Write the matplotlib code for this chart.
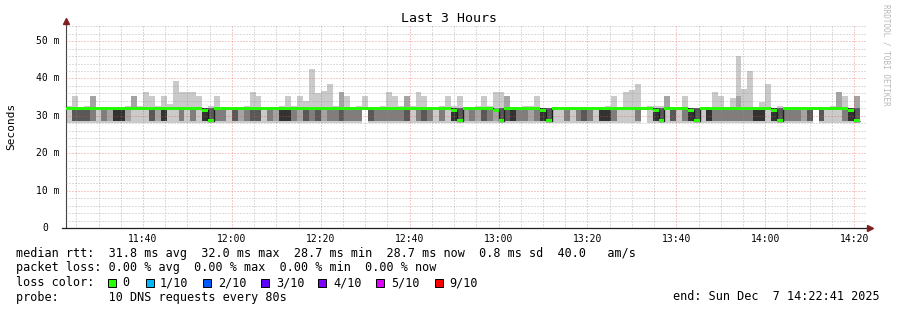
import numpy as np
import matplotlib
matplotlib.use("Agg")
import matplotlib.pyplot as plt
import matplotlib.dates as mdates
from matplotlib.ticker import MultipleLocator
from matplotlib.patches import Rectangle
from datetime import datetime, timedelta

plt.rcParams['font.family'] = ['DejaVu Sans Mono', 'DejaVu Sans']

# ---------------- data (ms), one value per 80 s probe step ----------------
start_time = datetime(2025, 12, 7, 11, 22, 40)
end_time = datetime(2025, 12, 7, 14, 22, 41)
step_seconds = 80

fast_rtt = 28.7   # fast cluster of DNS answers
slow_rtt = 32.0   # slow cluster of DNS answers

rtt_max = [
    32.7, 35.4, 32.2, 32.7, 35.4, 32.2, 32.2, 32.2, 32.2, 32.2,
    32.7, 35.4, 32.7, 36.3, 35.4, 32.7, 35.4, 33.2, 39.4, 36.3,
    36.3, 36.3, 35.4, 32.2, 32.7, 35.4, 32.2, 32.2, 32.2, 32.2,
    32.7, 36.3, 35.4, 32.2, 32.2, 32.2, 32.7, 35.4, 32.7, 35.4,
    34.0, 42.6, 36.0, 36.7, 38.5, 32.7, 36.3, 35.4, 32.2, 32.7,
    35.4, 32.2, 32.2, 32.7, 36.3, 35.4, 32.7, 35.4, 32.7, 36.3,
    35.4, 32.2, 32.2, 32.7, 35.4, 32.7, 35.4, 32.2, 32.2, 32.7,
    35.4, 32.7, 36.3, 36.3, 35.4, 32.2, 32.2, 32.7, 32.7, 35.4,
    32.2, 32.2, 32.2, 32.2, 32.2, 32.2, 32.2, 32.2, 32.2, 32.2,
    32.2, 32.7, 35.4, 32.2, 36.3, 36.8, 38.6, 32.2, 32.7, 32.7,
    32.7, 35.4, 32.2, 32.2, 35.4, 32.2, 32.2, 32.2, 32.2, 36.3,
    35.4, 32.2, 34.8, 46.1, 37.2, 42.1, 32.2, 33.6, 38.6, 32.2,
    32.7, 32.2, 32.2, 32.2, 32.2, 32.2, 32.2, 32.2, 32.2, 32.7,
    36.3, 35.4, 32.2, 35.4,
]

rtt_p9 = [
    32.0, 32.0, 32.0, 32.0, 35.4, 32.0, 32.0, 32.0, 32.0, 32.0,
    32.0, 35.4, 32.0, 32.0, 32.0, 32.0, 32.0, 32.0, 32.0, 32.0,
    32.0, 32.0, 32.0, 32.0, 32.0, 32.0, 32.0, 32.0, 32.0, 32.0,
    32.0, 32.0, 32.0, 32.0, 32.0, 32.0, 32.0, 32.0, 32.0, 32.0,
    32.0, 32.0, 32.0, 32.0, 32.0, 32.0, 36.3, 32.0, 32.0, 32.0,
    32.0, 32.0, 32.0, 32.0, 32.0, 32.0, 32.0, 35.4, 32.0, 32.0,
    32.0, 32.0, 32.0, 32.0, 32.0, 32.0, 32.0, 32.0, 32.0, 32.0,
    32.0, 32.0, 32.0, 32.0, 35.4, 32.0, 32.0, 32.0, 32.0, 32.0,
    32.0, 32.0, 32.0, 32.0, 32.0, 32.0, 32.0, 32.0, 32.0, 32.0,
    32.0, 32.0, 32.0, 32.0, 32.0, 32.0, 32.0, 32.0, 32.0, 32.0,
    32.0, 35.4, 32.0, 32.0, 32.0, 32.0, 32.0, 32.0, 32.0, 32.0,
    32.0, 32.0, 32.0, 35.4, 32.0, 32.0, 32.0, 32.0, 32.0, 32.0,
    32.0, 32.0, 32.0, 32.0, 32.0, 32.0, 32.0, 32.0, 32.0, 32.0,
    36.3, 32.0, 32.0, 35.4,
]

rtt_min = [
    28.1, 28.1, 28.1, 28.1, 28.1, 28.1, 28.1, 28.1, 28.1, 28.1,
    28.1, 28.1, 28.1, 28.1, 28.1, 28.1, 28.1, 28.1, 28.1, 28.1,
    28.1, 28.1, 28.1, 28.1, 28.1, 28.1, 28.1, 28.1, 28.1, 28.1,
    28.1, 28.1, 28.1, 28.1, 28.1, 28.1, 28.1, 28.1, 28.1, 28.1,
    28.1, 28.1, 28.1, 28.1, 28.1, 28.1, 28.1, 28.1, 28.1, 28.1,
    32.0, 28.1, 28.1, 28.1, 28.1, 28.1, 28.1, 28.1, 28.1, 28.1,
    28.1, 28.1, 28.1, 28.1, 28.1, 28.1, 28.1, 28.1, 28.1, 28.1,
    28.1, 28.1, 28.1, 28.1, 28.1, 28.1, 28.1, 28.1, 28.1, 28.1,
    28.1, 28.1, 28.1, 28.1, 28.1, 28.1, 28.1, 28.1, 28.1, 28.1,
    28.1, 28.1, 28.1, 28.1, 28.1, 28.1, 28.1, 32.0, 28.1, 28.1,
    28.1, 28.1, 28.1, 28.1, 28.1, 28.1, 28.1, 28.1, 28.1, 28.1,
    28.1, 28.1, 28.1, 28.1, 28.1, 28.1, 28.1, 28.1, 28.1, 28.1,
    28.1, 28.1, 28.1, 28.1, 28.1, 28.1, 32.0, 28.1, 28.1, 28.1,
    28.1, 28.1, 28.1, 28.1,
]

# number of the 10 answers that fell in the fast cluster
fast_count = [
    1, 4, 4, 4, 3, 1, 3, 2, 5, 5,
    2, 1, 1, 1, 4, 2, 5, 1, 1, 3,
    1, 3, 1, 5, 6, 3, 3, 1, 4, 2,
    3, 4, 4, 1, 3, 2, 5, 5, 3, 2,
    4, 3, 4, 2, 3, 3, 4, 3, 3, 3,
    0, 4, 3, 3, 3, 3, 3, 4, 1, 3,
    4, 3, 1, 3, 1, 5, 6, 2, 3, 2,
    4, 3, 2, 6, 4, 5, 3, 3, 2, 3,
    5, 6, 1, 1, 3, 1, 3, 4, 3, 1,
    5, 5, 3, 1, 1, 1, 3, 0, 1, 5,
    6, 1, 4, 1, 3, 5, 6, 1, 5, 3,
    3, 3, 3, 3, 3, 3, 5, 5, 1, 5,
    6, 3, 3, 3, 2, 4, 0, 4, 1, 1,
    1, 3, 5, 6,
]

median_rtt = [
    32.0, 32.0, 32.0, 32.0, 32.0, 32.0, 32.0, 32.0, 32.0, 32.0,
    32.0, 32.0, 32.0, 32.0, 32.0, 32.0, 32.0, 32.0, 32.0, 32.0,
    32.0, 32.0, 32.0, 31.5, 28.7, 32.0, 32.0, 32.0, 32.0, 32.0,
    32.0, 32.0, 32.0, 32.0, 32.0, 32.0, 32.0, 32.0, 32.0, 32.0,
    32.0, 32.0, 32.0, 32.0, 32.0, 32.0, 32.0, 32.0, 32.0, 32.0,
    32.0, 32.0, 32.0, 32.0, 32.0, 32.0, 32.0, 32.0, 32.0, 32.0,
    32.0, 32.0, 32.0, 32.0, 32.0, 31.5, 28.7, 32.0, 32.0, 32.0,
    32.0, 32.0, 31.5, 28.7, 32.0, 32.0, 32.0, 32.0, 32.0, 32.0,
    31.5, 28.7, 32.0, 32.0, 32.0, 32.0, 32.0, 32.0, 32.0, 32.0,
    32.0, 32.0, 32.0, 32.0, 32.0, 32.0, 32.0, 32.0, 32.0, 31.5,
    28.7, 32.0, 32.0, 32.0, 32.0, 31.5, 28.7, 32.0, 32.0, 32.0,
    32.0, 32.0, 32.0, 32.0, 32.0, 32.0, 32.0, 32.0, 32.0, 31.5,
    28.7, 32.0, 32.0, 32.0, 32.0, 32.0, 32.0, 32.0, 32.0, 32.0,
    32.0, 32.0, 31.5, 28.7,
]

y_ticks = [0, 10, 20, 30, 40, 50]
y_tick_labels = ["0", "10 m", "20 m", "30 m", "40 m", "50 m"]

legend_lines = [
    "median rtt:  31.8 ms avg  32.0 ms max  28.7 ms min  28.7 ms now  0.8 ms sd  40.0   am/s",
    "packet loss: 0.00 % avg  0.00 % max  0.00 % min  0.00 % now",
    "loss color:",
    "probe:       10 DNS requests every 80s",
]
loss_labels = ["0", "1/10", "2/10", "3/10", "4/10", "5/10", "9/10"]
loss_colors = ["#26ff00", "#00b8ff", "#0059ff", "#5e00ff", "#7e00ff", "#dd00ff", "#ff0000"]

# ---------------- build the 10 sorted answers per step ----------------
n = len(rtt_max)
pings = np.full((n, 10), slow_rtt)
for i in range(n):
    k = fast_count[i]
    pings[i, :k] = fast_rtt
    pings[i, 0] = rtt_min[i]
    pings[i, 8] = rtt_p9[i]
    pings[i, 9] = rtt_max[i]

edges = mdates.date2num([start_time + timedelta(seconds=step_seconds * j) for j in range(n + 1)])

# ---------------- figure ----------------
W, H = 897, 310
fig = plt.figure(figsize=(W / 100, H / 100), dpi=100, facecolor="white")
ax = fig.add_axes([66 / W, (H - 228) / H, 800 / W, 203 / H])
ax.set_facecolor("white")
ax.set_xlim(mdates.date2num(start_time + timedelta(seconds=1)), mdates.date2num(end_time))
ax.set_ylim(0, 54.3)

# smoke bands
for ib in range(1, 6):
    c = int(190 / 5 * (5 - ib)) + 50
    col = "#%02x%02x%02x" % (c, c, c)
    ax.stairs(pings[:, 10 - ib], edges, baseline=pings[:, ib - 1], fill=True,
              color=col, lw=0, antialiased=False, zorder=2)

# median
med = np.array(median_rtt)
ax.stairs(med, edges, baseline=None, color="#202020", lw=1.0, zorder=4)
ax.stairs(med + 0.42, edges, baseline=med - 0.42, fill=True, color=loss_colors[0],
          lw=0, antialiased=False, zorder=5)

# grid (semi-transparent, drawn over the smoke like rrdtool)
ax.xaxis.set_major_locator(mdates.MinuteLocator(byminute=range(0, 60, 20)))
ax.xaxis.set_minor_locator(mdates.MinuteLocator(byminute=range(0, 60, 5)))
ax.xaxis.set_major_formatter(mdates.DateFormatter("%H:%M"))
ax.yaxis.set_major_locator(MultipleLocator(10))
ax.yaxis.set_minor_locator(MultipleLocator(2))
ax.grid(which="minor", color="#8f8f8f", alpha=0.6, lw=0.72, ls=(0, (1, 2)), zorder=3)
ax.grid(which="major", color="#de5151", alpha=0.6, lw=0.72, ls=(0, (1, 2)), zorder=3)
ax.set_axisbelow(False)

ax.tick_params(which="both", length=0)
ax.tick_params(axis="x", labelsize=7, pad=4.2, colors="#000000")
ax.set_yticks(y_ticks)
ax.set_yticklabels([])
ytr = ax.get_yaxis_transform()
for v, lab in zip(y_ticks, y_tick_labels):
    xs = (36 - 66) / 800 if lab != "0" else (41.9 - 66) / 800
    ax.text(xs, v, lab, transform=ytr, ha="left", va="center", fontsize=7, color="#000000")

for s in ["top", "right"]:
    ax.spines[s].set_visible(False)
ax.spines["left"].set_color("#444444")
ax.spines["left"].set_linewidth(0.8)
ax.spines["bottom"].set_visible(False)
ax.spines["left"].set_bounds(0, 54.3)
# axes lines with arrows
ax.plot([-4 / 800, 1.0 + 2 / 800], [0, 0], transform=ax.transAxes, color="#1f1f1f",
        lw=0.9, clip_on=False, zorder=6)
ax.plot([1.0 + 4 / 800], [0], transform=ax.transAxes, marker=">", ms=5, color="#7f1f1f",
        mec="#7f1f1f", clip_on=False, zorder=7)
ax.plot([0, 0], [1.0, 1.0 + 3 / 203], transform=ax.transAxes, color="#444444", lw=0.8,
        clip_on=False, zorder=6)
ax.plot([0], [1.0 + 4 / 203], transform=ax.transAxes, marker="^", ms=5, color="#7f1f1f",
        mec="#7f1f1f", clip_on=False, zorder=7)

# titles
fig.text(448.5 / W, 1 - 19 / H, "Last 3 Hours", ha="center", va="center", fontsize=9.5)
fig.text(11 / W, 1 - 126 / H, "Seconds", ha="center", va="center", rotation=90, fontsize=8)
fig.text(886 / W, 1 - 4 / H, "RRDTOOL / TOBI OETIKER", ha="center", va="top",
         rotation=270, fontsize=5.5, color="#b8b8b8")

# legend
ys = [254, 268, 282.5, 297]
for line, y in zip(legend_lines, ys):
    fig.text(16 / W, 1 - y / H, line, ha="left", va="center", fontsize=8.5)
box_x = [108, 146, 203, 261, 318, 376, 435]
lab_x = [122, 160, 218, 276, 333, 391, 449]
for bx, lx, lab, c in zip(box_x, lab_x, loss_labels, loss_colors):
    fig.patches.append(Rectangle((bx / W, 1 - (ys[2] + 4) / H), 8 / W, 8 / H,
                                 transform=fig.transFigure, facecolor=c,
                                 edgecolor="#000000", lw=0.7))
    fig.text(lx / W, 1 - ys[2] / H, lab, ha="left", va="center", fontsize=8.5)
fig.text(880 / W, 1 - 297 / H, "end: Sun Dec  7 14:22:41 2025", ha="right", va="center",
         fontsize=8.5)

fig.savefig("out.png", dpi=100, facecolor="white")
